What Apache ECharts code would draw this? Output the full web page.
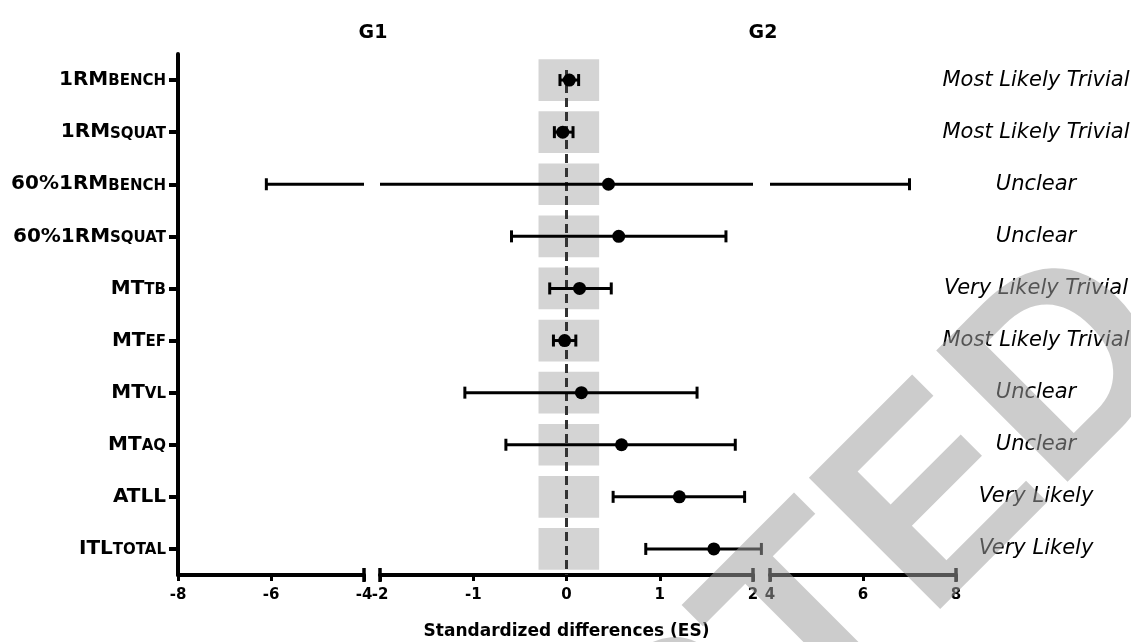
<!DOCTYPE html>
<html><head><meta charset="utf-8">
<script src="https://cdn.jsdelivr.net/npm/echarts@6/dist/echarts.min.js"></script>
<style>html,body{margin:0;padding:0;background:#fff}#c{width:1131px;height:642px}</style>
</head><body><div id="c"></div>
<script>
// ---- data ----
const categories = ['1RMbench','1RMsquat','60%1RMbench','60%1RMsquat','MTtb','MTef','MTvl','MTaq','ATLL','ITLtotal'];
const labelMain = ['1RM','1RM','60%1RM','60%1RM','MT','MT','MT','MT','ATLL','ITL'];
const labelSub = ['BENCH','SQUAT','BENCH','SQUAT','TB','EF','VL','AQ','','TOTAL'];
const effect = [0.03,-0.04,0.45,0.56,0.14,-0.02,0.16,0.59,1.21,1.58];
const lower  = [-0.07,-0.13,-6.1,-0.59,-0.18,-0.14,-1.09,-0.65,0.50,0.85];
const upper  = [0.13,0.07,7.0,1.71,0.48,0.10,1.40,1.81,1.91,2.09];
const verdicts = ['Most Likely Trivial','Most Likely Trivial','Unclear','Unclear','Very Likely Trivial','Most Likely Trivial','Unclear','Unclear','Very Likely','Very Likely'];
const segMin = [-8,-2,4];
const segMax = [-4,2,8];
const segInterval = [2,1,2];
const trivialLow = -0.3, trivialHigh = 0.35;
const zeroLine = [0];
const groupTitles = ['G1','G2'];
const axisTitle = 'Standardized differences (ES)';
const watermark = 'ACCEPTED';

// ---- layout ----
const FONT = '"DejaVu Sans", "Liberation Sans", sans-serif';
const gridTop = 54, gridBottom = 67;
const grids = [
  {left:178, width:186},
  {left:380, width:373},
  {left:770, width:186}
];
function segOf(v){ if (v <= -3) return 0; if (v < 3) return 1; return 2; }

const chart = echarts.init(document.getElementById('c'), null, {renderer:'canvas'});

const xAxes = grids.map((g,i)=>({
  type:'value', gridIndex:i, min:segMin[i], max:segMax[i], interval:segInterval[i],
  splitLine:{show:false},
  axisLine:{show:true, lineStyle:{color:'#000', width:4}},
  axisTick:{show:true, length:6, lineStyle:{color:'#000', width:3}},
  axisLabel:{color:'#000', fontFamily:FONT, fontWeight:'bold', fontSize:15, margin:13},
  name: i===1 ? axisTitle : '', nameLocation:'middle', nameGap:48,
  nameTextStyle:{color:'#000', fontFamily:FONT, fontWeight:'bold', fontSize:17}
}));

const yAxes = grids.map((g,i)=>{
  const base = {type:'category', gridIndex:i, data:categories, inverse:true};
  if (i===0) return Object.assign(base, {
    axisLine:{show:true, lineStyle:{color:'#000', width:4}},
    axisTick:{show:true, alignWithLabel:true, length:9, lineStyle:{color:'#000', width:4}},
    axisLabel:{margin:12, formatter:(v,idx)=>'{a|'+labelMain[idx]+'}'+(labelSub[idx]?'{b|'+labelSub[idx]+'}':''),
      rich:{a:{fontFamily:FONT, fontWeight:'bold', fontSize:20, color:'#000', verticalAlign:'bottom'},
            b:{fontFamily:FONT, fontWeight:'bold', fontSize:15, color:'#000', verticalAlign:'bottom', padding:[0,0,1,0]}}}
  });
  if (i===2) return Object.assign(base, {
    position:'right', axisLine:{show:false}, axisTick:{show:false},
    axisLabel:{margin:80, align:'center', formatter:(v,idx)=>verdicts[idx],
      fontFamily:FONT, fontStyle:'italic', fontSize:21, color:'#000'}
  });
  return Object.assign(base, {show:false});
});

const series = [];
// trivial zone boxes
series.push({
  type:'custom', xAxisIndex:1, yAxisIndex:1, clip:false, z:1,
  encode:{x:[0,1], y:2},
  data: categories.map(c=>[trivialLow, trivialHigh, c]),
  renderItem:(params, api)=>{
    const p0 = api.coord([api.value(0), api.value(2)]);
    const p1 = api.coord([api.value(1), api.value(2)]);
    const h = api.size([0,1])[1]*0.8;
    return {type:'rect', shape:{x:p0[0], y:p0[1]-h/2, width:p1[0]-p0[0], height:h}, style:{fill:'#d4d4d4'}};
  }
});
// zero dashed line
series.push({
  type:'custom', xAxisIndex:1, yAxisIndex:1, clip:false, z:2,
  encode:{x:0, y:1},
  data: zeroLine.map(v=>[v, categories[0]]),
  renderItem:(params, api)=>{
    const cs = params.coordSys;
    const x = api.coord([api.value(0), 0])[0];
    return {type:'line', shape:{x1:x, y1:cs.y+16, x2:x, y2:cs.y+cs.height}, style:{stroke:'#333', lineWidth:3, lineDash:[9,5]}};
  }
});
// error bars per segment
grids.forEach((g,gi)=>{
  series.push({
    type:'custom', xAxisIndex:gi, yAxisIndex:gi, clip:false, z:3,
    encode:{x:[0,1], y:2},
    data: categories.map((c,i)=>[lower[i], upper[i], c]),
    renderItem:(params, api)=>{
      const lo = api.value(0), hi = api.value(1), cat = api.value(2);
      const sLo = segOf(lo), sHi = segOf(hi);
      if (sHi < gi || sLo > gi) return null;
      const a = sLo===gi ? lo : segMin[gi];
      const b = sHi===gi ? hi : segMax[gi];
      const pa = api.coord([a, cat]), pb = api.coord([b, cat]);
      const st = {stroke:'#000', lineWidth:3};
      const children = [{type:'line', shape:{x1:pa[0], y1:pa[1], x2:pb[0], y2:pb[1]}, style:st}];
      if (sLo===gi) children.push({type:'line', shape:{x1:pa[0], y1:pa[1]-6, x2:pa[0], y2:pa[1]+6}, style:st});
      if (sHi===gi) children.push({type:'line', shape:{x1:pb[0], y1:pb[1]-6, x2:pb[0], y2:pb[1]+6}, style:st});
      return {type:'group', children};
    }
  });
  // broken-axis end caps
  const ends = gi===0 ? [segMax[gi]] : [segMin[gi], segMax[gi]];
  series.push({
    type:'custom', xAxisIndex:gi, yAxisIndex:gi, clip:false, z:4,
    encode:{x:0, y:1},
    data: ends.map(v=>[v, categories[0]]),
    renderItem:(params, api)=>{
      const cs = params.coordSys;
      const x = api.coord([api.value(0), 0])[0];
      const yb = cs.y + cs.height;
      return {type:'line', shape:{x1:x, y1:yb-7, x2:x, y2:yb+7}, style:{stroke:'#000', lineWidth:3.5}};
    }
  });
});
// point estimates
series.push({
  type:'scatter', xAxisIndex:1, yAxisIndex:1, z:5,
  symbol:'circle', symbolSize:13, itemStyle:{color:'#000', opacity:1},
  data: categories.map((c,i)=>[effect[i], c])
});

chart.setOption({
  animation:false,
  backgroundColor:'#fff',
  title:[
    {text:groupTitles[0], left:368, top:19, textAlign:'center', textStyle:{fontFamily:FONT, fontWeight:'bold', fontSize:19, color:'#000'}},
    {text:groupTitles[1], left:758, top:19, textAlign:'center', textStyle:{fontFamily:FONT, fontWeight:'bold', fontSize:19, color:'#000'}}
  ],
  grid: grids.map(g=>({left:g.left, width:g.width, top:gridTop, bottom:gridBottom, containLabel:false, outerBoundsMode:'none'})),
  xAxis: xAxes,
  yAxis: yAxes,
  series,
  graphic:[{
    type:'text', x:1140, y:304, rotation:Math.PI/4, z:100, silent:true,
    style:{text:watermark, font:'bold 270px "Liberation Sans", Arial, sans-serif', fill:'rgba(159,159,159,0.53)', align:'right', verticalAlign:'middle'}
  }]
});
</script></body></html>
